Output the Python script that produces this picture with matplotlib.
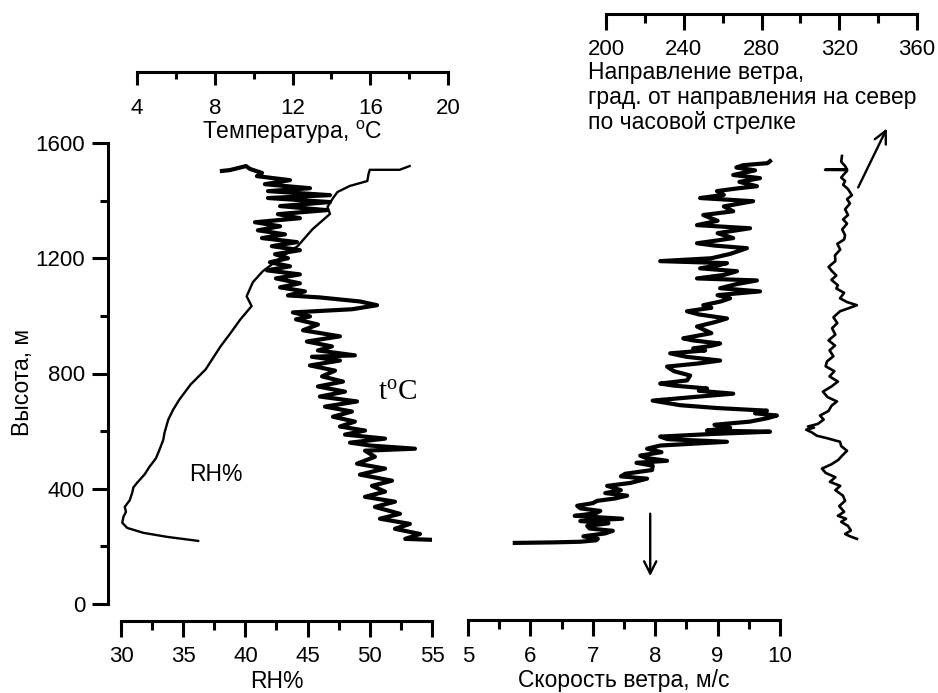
import matplotlib.pyplot as plt
from matplotlib.ticker import MultipleLocator

plt.rcParams['font.family'] = ['Liberation Sans', 'DejaVu Sans']
plt.rcParams['mathtext.fontset'] = 'custom'
plt.rcParams['mathtext.rm'] = 'Liberation Sans'

# --- data ---
# relative humidity (thin curve), height in m
rh_h = [219, 233, 247, 264, 282, 303, 320, 337, 360, 386, 405, 421, 450, 477, 505, 536, 570,
        595, 640, 675, 710, 762, 814, 894, 940, 988, 1034, 1068, 1117, 1155, 1207, 1242, 1301,
        1354, 1378, 1406, 1430, 1451, 1468, 1493, 1507, 1507, 1520]
rh_pct = [36.2, 33.7, 31.8, 30.5, 30.1, 30.2, 30.4, 30.3, 30.7, 30.9, 31.0, 31.3, 31.9, 32.3,
          32.8, 33.1, 33.4, 33.5, 33.8, 34.2, 34.7, 35.6, 36.8, 38.0, 38.8, 39.6, 40.5, 40.1,
          40.6, 41.4, 43.0, 44.2, 45.4, 46.8, 46.6, 47.0, 47.4, 48.4, 49.8, 49.9, 50.0, 52.4, 53.2]

# temperature (thick noisy curve)
temp_h = [223, 226, 243, 261, 278, 296, 313, 337, 355, 372, 390, 410, 428, 449, 470, 487, 511,
          532, 539, 550, 560, 574, 588, 602, 616, 633, 650, 668, 685, 703, 720, 737, 755, 772,
          790, 810, 828, 845, 858, 863, 880, 894, 911, 929, 950, 970, 988, 998, 1012, 1023, 1037,
          1050, 1064, 1071, 1085, 1099, 1113, 1130, 1144, 1158, 1172, 1186, 1200, 1214, 1228,
          1242, 1256, 1270, 1283, 1297, 1311, 1325, 1339, 1353, 1367, 1381, 1395, 1409, 1419,
          1433, 1443, 1457, 1471, 1485, 1496, 1510, 1520, 1506, 1503]
temp_c = [19.07, 17.8, 18.56, 17.27, 18.04, 16.5, 17.53, 16.24, 17.27, 15.73, 16.76, 16.09,
          17.12, 15.47, 16.76, 15.32, 16.24, 15.73, 18.3, 15.99, 14.96, 16.76, 14.7, 15.73, 14.44,
          15.21, 14.08, 15.06, 13.67, 15.32, 13.41, 14.7, 13.31, 14.6, 13.52, 14.19, 12.9, 14.44,
          13.0, 15.21, 13.31, 14.03, 12.74, 14.44, 12.54, 13.31, 12.18, 12.9, 12.02, 15.06, 16.35,
          15.47, 13.41, 11.77, 12.64, 11.36, 12.38, 11.15, 12.38, 10.69, 11.87, 10.84, 11.77,
          11.1, 12.38, 10.94, 12.23, 10.43, 11.61, 10.22, 11.36, 10.07, 12.38, 11.25, 13.77,
          11.36, 13.93, 10.74, 13.93, 10.74, 12.9, 10.58, 11.87, 10.17, 10.43, 9.81, 9.61, 8.78, 8.37]

# wind speed (thick noisy curve), m/s
speed_h = [212, 214, 216, 221, 226, 235, 245, 254, 262, 271, 280, 288, 296, 306, 315, 323, 332,
           341, 350, 358, 366, 376, 385, 395, 410, 420, 435, 443, 452, 465, 480, 490, 497, 507,
           515, 527, 539, 550, 563, 572, 581, 590, 598, 602, 612, 622, 633, 645, 654, 662, 671,
           680, 690, 706, 718, 730, 740, 748, 758, 765, 776, 793, 808, 824, 835, 845, 858, 870,
           880, 887, 896, 904, 915, 922, 940, 963, 978, 991, 1005, 1016, 1028, 1037, 1050, 1061,
           1072, 1085, 1096, 1110, 1123, 1130, 1142, 1155, 1165, 1175, 1183, 1190, 1200, 1215,
           1235, 1244, 1252, 1262, 1270, 1287, 1304, 1315, 1330, 1350, 1363, 1380, 1398, 1409,
           1420, 1433, 1442, 1450, 1465, 1478, 1489, 1505, 1515, 1523, 1530, 1537]
speed_ms = [5.75, 6.4, 6.79, 7.05, 7.08, 6.85, 7.2, 7.32, 6.95, 6.91, 7.25, 6.8, 7.47, 6.71,
            7.05, 7.12, 6.8, 6.75, 7.0, 7.07, 7.35, 7.55, 7.2, 7.45, 7.23, 7.6, 7.87, 7.45, 7.52,
            7.95, 7.96, 7.7, 8.19, 7.85, 7.76, 8.1, 7.87, 8.08, 9.15, 8.2, 8.08, 8.9, 9.84, 8.83,
            9.2, 8.95, 9.52, 9.8, 9.95, 9.6, 9.79, 9.0, 8.4, 7.96, 8.6, 9.25, 8.7, 8.83, 8.3,
            8.08, 8.51, 8.56, 8.3, 8.19, 8.7, 9.04, 8.5, 8.24, 8.8, 8.61, 8.9, 9.04, 8.6, 8.45,
            8.9, 8.67, 8.95, 9.15, 8.7, 8.51, 8.9, 8.77, 9.05, 9.2, 9.0, 9.68, 9.04, 9.3, 9.63,
            8.67, 9.1, 9.31, 8.72, 9.0, 9.15, 8.08, 8.9, 9.2, 9.47, 8.95, 8.67, 9.0, 9.25, 9.0,
            9.52, 8.67, 9.0, 8.77, 9.25, 9.1, 9.57, 8.72, 9.1, 8.99, 9.3, 9.63, 9.35, 9.68, 9.25,
            9.6, 9.3, 9.41, 9.8, 9.84]

# wind direction (thin curve), degrees
dir_h = [226, 235, 243, 255, 271, 285, 296, 306, 320, 340, 358, 376, 395, 410, 424, 440, 455,
         470, 485, 500, 515, 532, 548, 563, 575, 584, 595, 605, 612, 616, 625, 640, 654, 670,
         688, 703, 718, 737, 755, 772, 790, 808, 825, 842, 860, 880, 897, 915, 935, 957, 975,
         995, 1016, 1027, 1037, 1048, 1061, 1080, 1095, 1106, 1125, 1140, 1155, 1170, 1190,
         1210, 1230, 1250, 1265, 1280, 1300, 1320, 1335, 1350, 1370, 1390, 1405, 1419, 1440,
         1455, 1468, 1480, 1492, 1503, 1506, 1507, 1508, 1520, 1535, 1555]
dir_deg = [329.1, 325.5, 323.0, 326.0, 324.5, 321.0, 323.5, 319.3, 322.5, 320.0, 323.0, 321.9,
           318.0, 320.5, 315.2, 318.0, 313.0, 311.1, 316.0, 319.5, 321.5, 324.0, 321.0, 320.4,
           314.0, 308.5, 306.0, 303.0, 307.0, 303.9, 309.0, 312.0, 310.1, 314.5, 316.0, 318.8,
           314.0, 311.6, 316.0, 319.3, 315.0, 317.5, 313.0, 313.7, 317.0, 315.0, 317.8, 314.5,
           318.0, 316.3, 319.0, 317.0, 320.4, 325.0, 329.1, 324.0, 320.4, 322.5, 318.5, 319.3,
           316.0, 318.5, 316.3, 314.5, 318.0, 317.8, 320.5, 319.0, 322.5, 323.0, 321.5, 324.0,
           322.0, 324.5, 323.0, 325.5, 324.0, 326.5, 324.5, 322.0, 323.0, 321.0, 322.5, 324.0,
           324.0, 312.7, 324.0, 323.0, 321.0, 321.4]

W, H = 938, 693
fig = plt.figure(figsize=(W / 100, H / 100), dpi=100)


def box(x0, x1, ytop, ybot):
    # pixel box -> figure fraction
    return [x0 / W, 1 - ybot / H, (x1 - x0) / W, max(ybot - ytop, 0.05) / H]


TOP, BOT = 143, 604
LW = 2.2
TICKFS = 16
LABFS = 16.5

ax_rh = fig.add_axes(box(121, 432, TOP, BOT))
ax_t = fig.add_axes(box(137, 448, TOP, BOT))
ax_ws = fig.add_axes(box(468, 780, TOP, BOT))
ax_wd = fig.add_axes(box(606, 917, TOP, BOT))
t_scale = fig.add_axes(box(137, 448, 72, 72))
wd_scale = fig.add_axes(box(606, 917, 14, 14))

for ax in [ax_rh, ax_t, ax_ws, ax_wd, t_scale, wd_scale]:
    ax.patch.set_visible(False)
    for s in ax.spines.values():
        s.set_visible(False)
        s.set_linewidth(LW)
    ax.set_ylim(0, 1600)
    ax.tick_params(which='both', width=LW, labelsize=TICKFS, direction='out')

for ax in [ax_t, ax_wd]:
    ax.set_xticks([])
    ax.set_yticks([])

for ax in [ax_ws, t_scale, wd_scale]:
    ax.set_yticks([])


def scale(ax, lo, hi, major, minor, ln=11.5, pad=7):
    ax.set_xlim(lo, hi)
    ax.spines['bottom'].set_visible(True)
    ax.xaxis.set_major_locator(MultipleLocator(major))
    ax.xaxis.set_minor_locator(MultipleLocator(minor))
    ax.tick_params(axis='x', which='major', length=ln, pad=pad)
    ax.tick_params(axis='x', which='minor', length=ln * 0.55)


scale(ax_rh, 30, 55, 5, 2.5)
scale(ax_ws, 5, 10, 1, 0.5)
scale(t_scale, 4, 20, 4, 2, ln=9.5, pad=9)
scale(wd_scale, 200, 360, 40, 20, pad=6.5)
ax_t.set_xlim(4, 20)
ax_wd.set_xlim(200, 360)

ax_rh.spines['bottom'].set_position(('outward', 12))
ax_ws.spines['bottom'].set_position(('outward', 11.5))

ax_rh.spines['left'].set_visible(True)
ax_rh.spines['left'].set_position(('outward', 9.4))
ax_rh.yaxis.set_major_locator(MultipleLocator(400))
ax_rh.yaxis.set_minor_locator(MultipleLocator(200))
ax_rh.tick_params(axis='y', which='major', length=11.5, pad=5)
ax_rh.tick_params(axis='y', which='minor', length=6)

ax_rh.set_xlabel('RH%', fontsize=LABFS, labelpad=2)
ax_ws.set_xlabel('Скорость ветра, м/с', fontsize=LABFS, labelpad=2)
t_scale.set_xlabel('Температура, $\\mathregular{^o}$C', fontsize=LABFS, labelpad=0)

fig.text(22 / W, 1 - 382 / H, 'Высота, м', rotation=90, ha='center', va='center', fontsize=LABFS)
for y, line in zip([79, 104, 129], ['Направление ветра,', 'град. от направления на север',
                                     'по часовой стрелке']):
    fig.text(588 / W, 1 - y / H, line, ha='left', va='baseline', fontsize=LABFS)

# curves
ax_rh.plot(rh_pct, rh_h, color='black', lw=1.7, clip_on=False)
ax_t.plot(temp_c, temp_h, color='black', lw=3.0, clip_on=False)
ax_ws.plot(speed_ms, speed_h, color='black', lw=3.0, clip_on=False)
ax_wd.plot(dir_deg, dir_h, color='black', lw=1.9, clip_on=False)

ax_rh.text(37.6, 449, 'RH%', ha='center', va='center', fontsize=LABFS)
ax_t.text(17.4, 734, '$\\mathregular{t^oC}$', ha='center', va='center', fontsize=21,
          family='Liberation Serif')

arrow = dict(arrowstyle='->', lw=1.7, color='black', mutation_scale=22)
ax_ws.annotate('', xy=(7.92, 87), xytext=(7.92, 323), arrowprops=arrow, annotation_clip=False)
ax_wd.annotate('', xy=(345.1, 1659), xytext=(329.1, 1437), arrowprops=arrow, annotation_clip=False)

fig.savefig('out.png', dpi=100)
